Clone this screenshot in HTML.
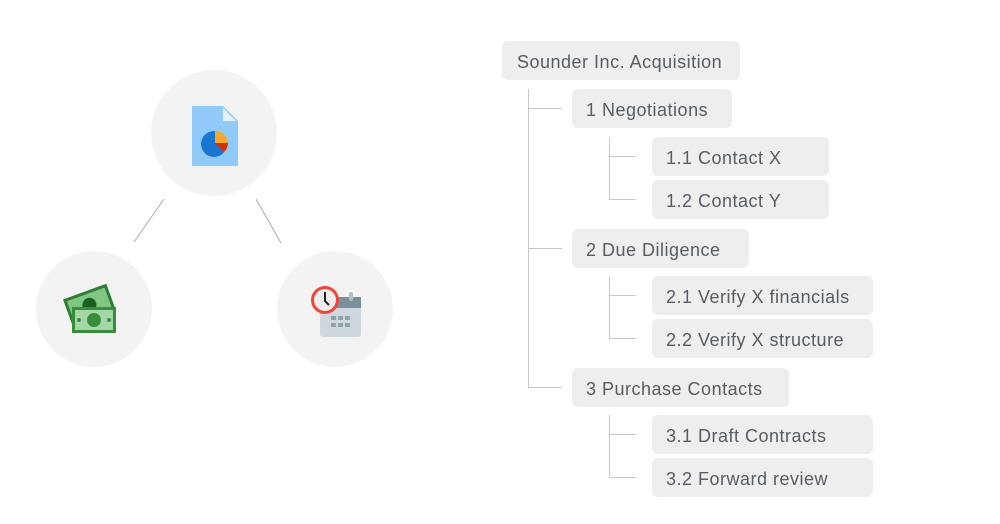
<!DOCTYPE html>
<html><head><style>
body{margin:0;width:1000px;height:524px;background:#fff;position:relative;overflow:hidden;font-family:"Liberation Sans",sans-serif}
.b{position:absolute;background:#eeeeee;border-radius:6px;color:#555d66;font-size:18px;letter-spacing:0.5px;line-height:42px;height:39px;padding-left:14px;box-sizing:border-box;white-space:nowrap}
.l{position:absolute;background:#c8c8c8}
.c{position:absolute;border-radius:50%;background:#f3f3f3}
</style></head><body>
<div class="c" style="left:151px;top:70px;width:126px;height:126px"></div>
<div class="c" style="left:36px;top:251px;width:116px;height:116px"></div>
<div class="c" style="left:277px;top:251px;width:116px;height:116px"></div>
<svg width="1000" height="524" style="position:absolute;left:0;top:0">
<line x1="164" y1="199" x2="134" y2="242" stroke="#aaa" stroke-width="1"/>
<line x1="256" y1="199" x2="281" y2="243" stroke="#aaa" stroke-width="1"/>
<path d="M192 106 H223 L238 121 V166 H192 Z" fill="#90caf9"/>
<path d="M223 108 L236 121 H223 Z" fill="#e3f2fd"/>
<circle cx="214" cy="144" r="13" fill="#1976d2"/>
<path d="M215 131 A13 13 0 0 1 228 143 L215 143 Z" fill="#f9a825"/>
<path d="M215 143 L228 143 A13 13 0 0 1 224 152 Z" fill="#dd2c00"/>
<g transform="rotate(-20 92 306)"><rect x="67" y="290" width="46" height="28" fill="#2e7d32"/><rect x="70" y="293" width="40" height="22" fill="#81c784"/><circle cx="90" cy="304" r="7" fill="#1b5e20"/></g>
<rect x="72" y="307" width="44" height="26" fill="#388e3c"/>
<rect x="75" y="310" width="38" height="20" fill="#a5d6a7"/>
<circle cx="94" cy="320" r="7" fill="#388e3c"/>
<circle cx="79" cy="320" r="2" fill="#388e3c"/><circle cx="109" cy="320" r="2" fill="#388e3c"/>
<rect x="320" y="297" width="41" height="40" rx="3" fill="#cfd8dc"/>
<rect x="320" y="297" width="41" height="11" fill="#78909c"/>
<rect x="349" y="292" width="4" height="9" rx="2" fill="#b0bec5"/>
<g fill="#90a4ae"><rect x="331" y="316" width="5" height="4"/><rect x="338" y="316" width="5" height="4"/><rect x="345" y="316" width="5" height="4"/><rect x="331" y="323" width="5" height="4"/><rect x="338" y="323" width="5" height="4"/><rect x="345" y="323" width="5" height="4"/></g>
<circle cx="325" cy="300" r="14" fill="#f44336"/>
<circle cx="325" cy="300" r="11" fill="#eee"/>
<path d="M325 292 V301 L329 305" stroke="#222" stroke-width="2" fill="none"/>
</svg>
<div class="l" style="left:528px;top:89px;width:1px;height:298px"></div>
<div class="l" style="left:528px;top:108px;width:34px;height:1px"></div>
<div class="l" style="left:528px;top:248px;width:34px;height:1px"></div>
<div class="l" style="left:528px;top:387px;width:34px;height:1px"></div>
<div class="l" style="left:609px;top:137px;width:1px;height:63px"></div>
<div class="l" style="left:609px;top:156px;width:27px;height:1px"></div>
<div class="l" style="left:609px;top:199px;width:27px;height:1px"></div>
<div class="l" style="left:609px;top:276px;width:1px;height:63px"></div>
<div class="l" style="left:609px;top:295px;width:27px;height:1px"></div>
<div class="l" style="left:609px;top:338px;width:27px;height:1px"></div>
<div class="l" style="left:609px;top:415px;width:1px;height:63px"></div>
<div class="l" style="left:609px;top:434px;width:27px;height:1px"></div>
<div class="l" style="left:609px;top:477px;width:27px;height:1px"></div>
<div class="b" style="left:502px;top:41px;width:238px;padding-left:15px">Sounder Inc. Acquisition</div>
<div class="b" style="left:572px;top:89px;width:160px">1 Negotiations</div>
<div class="b" style="left:652px;top:137px;width:177px">1.1 Contact X</div>
<div class="b" style="left:652px;top:180px;width:177px">1.2 Contact Y</div>
<div class="b" style="left:572px;top:229px;width:177px">2 Due Diligence</div>
<div class="b" style="left:652px;top:276px;width:221px">2.1 Verify X financials</div>
<div class="b" style="left:652px;top:319px;width:221px">2.2 Verify X structure</div>
<div class="b" style="left:572px;top:368px;width:217px">3 Purchase Contacts</div>
<div class="b" style="left:652px;top:415px;width:221px">3.1 Draft Contracts</div>
<div class="b" style="left:652px;top:458px;width:221px">3.2 Forward review</div>
</body></html>
